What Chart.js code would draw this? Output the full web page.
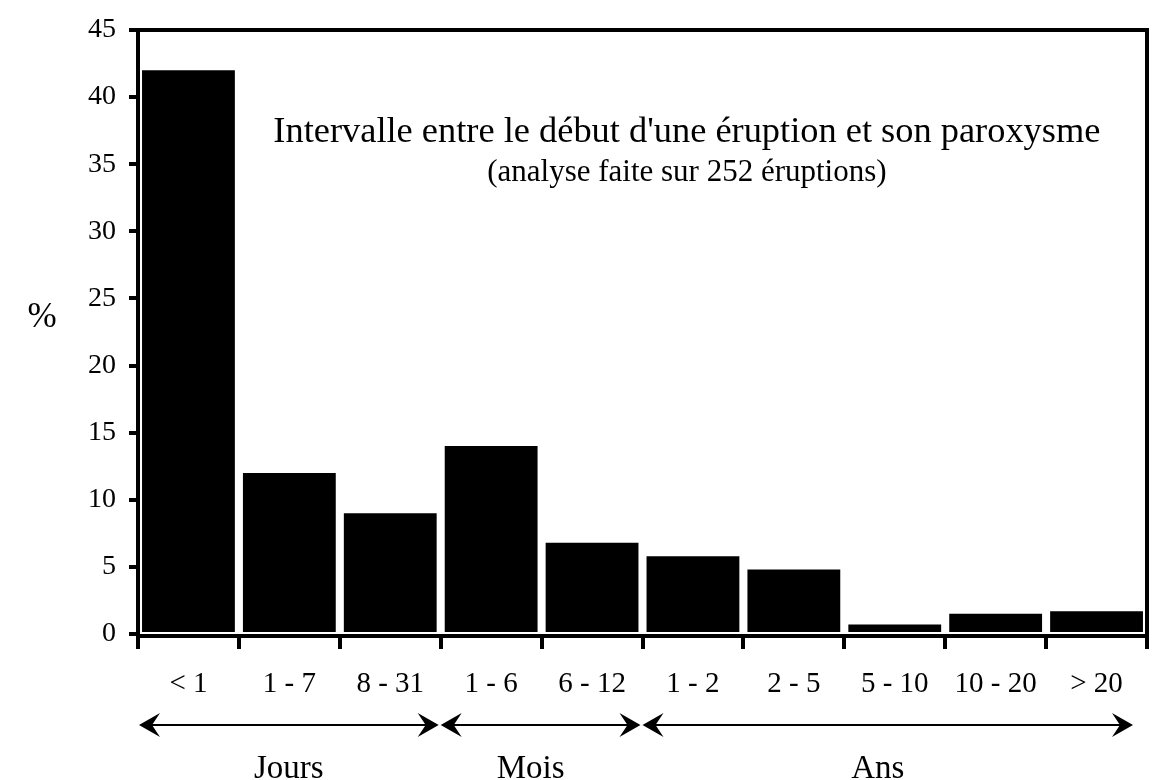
<!DOCTYPE html>
<html><head><meta charset="utf-8">
<script src="https://cdn.jsdelivr.net/npm/chart.js@4.4.0/dist/chart.umd.min.js"></script>
<style>html,body{margin:0;padding:0;background:#fff;}#wrap{width:1164px;height:780px;position:relative;}</style>
</head><body><div id="wrap"><canvas id="c"></canvas></div>
<script>
const categories = ['< 1','1 - 7','8 - 31','1 - 6','6 - 12','1 - 2','2 - 5','5 - 10','10 - 20','> 20'];
const percentages = [42, 12, 9, 14, 6.8, 5.8, 4.8, 0.7, 1.5, 1.7];
const yMin = 0, yMax = 45, yStep = 5;
const groupLabels = ['Jours','Mois','Ans'];
const groupStart = [0, 3, 5];
const groupEnd = [2, 4, 9];
const titleText = "Intervalle entre le début d'une éruption et son paroxysme";
const subtitleText = "(analyse faite sur 252 éruptions)";
const yAxisLabel = '%';

const SERIF = "'Liberation Serif', 'DejaVu Serif', serif";

function arrowHead(ctx, x, y, dir) {
  const L = 21, h = 12;
  ctx.beginPath();
  ctx.moveTo(x, y);
  ctx.lineTo(x - dir * L, y - h);
  ctx.lineTo(x - dir * L * 0.62, y);
  ctx.lineTo(x - dir * L, y + h);
  ctx.closePath();
  ctx.fill();
}

const decor = {
  id: 'decor',
  afterDatasetsDraw(chart) {
    const ctx = chart.ctx, a = chart.chartArea, xs = chart.scales.x;
    ctx.save();
    // frame
    ctx.strokeStyle = '#000';
    ctx.lineWidth = 4;
    ctx.strokeRect(a.left, a.top, a.right - a.left, a.bottom - a.top + 2);
    // titles
    ctx.fillStyle = '#000';
    ctx.textAlign = 'center';
    ctx.textBaseline = 'alphabetic';
    const cx = a.left + (a.right - a.left) * 0.544;
    ctx.font = '36.4px ' + SERIF;
    ctx.fillText(titleText, cx, 142);
    ctx.font = '31px ' + SERIF;
    ctx.fillText(subtitleText, cx, 181);
    // % label
    ctx.font = '35px ' + SERIF;
    ctx.fillText(yAxisLabel, 42, 327);
    // group arrows
    const half = (xs.getPixelForValue(1) - xs.getPixelForValue(0)) / 2;
    const bound = i => xs.getPixelForValue(i) - half;
    const yArr = 725;
    ctx.lineWidth = 2;
    for (let g = 0; g < groupLabels.length; g++) {
      let x0 = bound(groupStart[g]);
      let x1 = bound(groupEnd[g] + 1);
      x0 += (g === 0) ? 1 : 0;
      x1 -= (g === groupLabels.length - 1) ? 14 : 2;
      ctx.beginPath();
      ctx.moveTo(x0 + 10, yArr);
      ctx.lineTo(x1 - 10, yArr);
      ctx.stroke();
      arrowHead(ctx, x0, yArr, -1);
      arrowHead(ctx, x1, yArr, 1);
      ctx.font = '33px ' + SERIF;
      ctx.textBaseline = 'alphabetic';
      const lx = (x0 + x1) / 2 - (g === 0 ? 0 : 10);
      ctx.fillText(groupLabels[g], lx, 778);
    }
    ctx.restore();
  }
};

new Chart(document.getElementById('c'), {
  type: 'bar',
  data: {
    labels: categories,
    datasets: [{
      data: percentages,
      backgroundColor: '#000',
      borderWidth: 0,
      barPercentage: 0.92,
      categoryPercentage: 1
    }]
  },
  options: {
    responsive: true,
    maintainAspectRatio: false,
    animation: false,
    devicePixelRatio: 1,
    layout: { padding: { top: 30, right: 17, bottom: 0, left: 0 } },
    plugins: { legend: { display: false }, tooltip: { enabled: false }, title: { display: false } },
    scales: {
      x: {
        offset: true,
        grid: { offset: true, drawOnChartArea: false, drawTicks: true, tickLength: 15, lineWidth: 4, color: '#000' },
        border: { display: false },
        ticks: { color: '#000', font: { family: SERIF, size: 29 }, padding: 18, maxRotation: 0, autoSkip: false },
        afterFit(s) { s.height = 146; }
      },
      y: {
        min: yMin, max: yMax,
        grid: { drawOnChartArea: false, drawTicks: true, tickLength: 9, lineWidth: 4, color: '#000' },
        border: { display: false },
        ticks: { stepSize: yStep, color: '#000', font: { family: SERIF, size: 28 }, padding: 13 },
        afterFit(s) { s.width = 138; }
      }
    }
  },
  plugins: [decor]
});
</script></body></html>
